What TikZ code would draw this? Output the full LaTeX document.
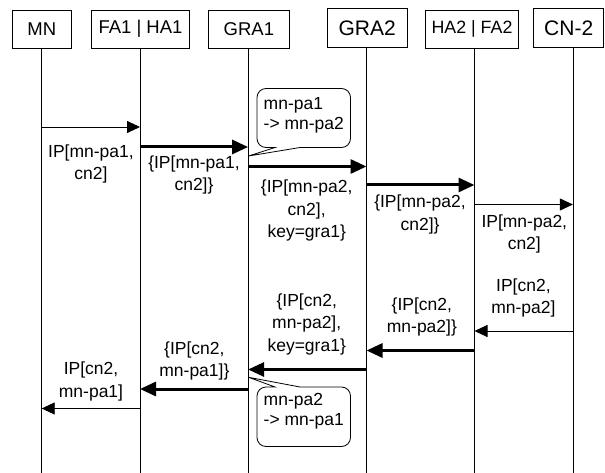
\documentclass[tikz,border=0pt]{standalone}
\usepackage{fontspec}
\setmainfont{Liberation Sans}
\usetikzlibrary{arrows.meta}

\begin{document}
\begin{tikzpicture}[x=1pt,y=-1pt,
  entity/.style={draw,line width=.8pt,minimum height=38.5pt,inner sep=0pt,
    font=\fontsize{18.5}{22}\selectfont},
  bigentity/.style={entity,font=\fontsize{21}{24}\selectfont},
  lifeline/.style={line width=.8pt},
  thinmsg/.style={line width=.9pt,-{Triangle[length=13pt,width=12pt]}},
  thickmsg/.style={line width=3pt,-{Triangle[length=16pt,width=14pt]}},
  msglabel/.style={align=center,inner sep=0pt,
    font=\fontsize{17.5}{22.5}\selectfont},
  swaplabel/.style={align=left,anchor=west,inner sep=0pt,
    font=\fontsize{17.5}{20}\selectfont},
  callbox/.style={draw,line width=.8pt,fill=white}]
  \useasboundingbox (0,0) rectangle (605,473);
  % participants
  \node[entity,minimum width=58.3pt] (mn) at (41.8,29.2) {MN};
  \node[entity,minimum width=97.6pt] (fa) at (140.5,29.2) {FA1 | HA1};
  \node[entity,minimum width=81pt] (graa) at (248.9,29.2) {GRA1};
  \node[bigentity,minimum width=79.8pt] (grab) at (367.1,28) {GRA2};
  \node[entity,minimum width=93.7pt,font=\fontsize{17.8}{22}\selectfont]
    (ha) at (472,29.2) {HA2 | FA2};
  \node[bigentity,minimum width=70.2pt] (cn) at (568.7,28) {CN-2};
  % lifelines
  \coordinate (mnl) at (41.7,48.4);
  \coordinate (fal) at (140,48.4);
  \coordinate (graal) at (248.1,48.4);
  \coordinate (grabl) at (366.5,47.2);
  \coordinate (hal) at (474.5,48.4);
  \coordinate (cnl) at (572.9,47.2);
  \foreach \l in {mnl,fal,graal,grabl,hal,cnl}
    \draw[lifeline] (\l) -- (\l |- 0,473);
  % callouts on GRA1
  \coordinate (tipa) at (248.6,156);
  \coordinate (tipb) at (248.6,377.3);
  \draw[callbox] (tipa) -- (300,147.5) [rounded corners=9pt] -- (350.5,147.5)
    -- (350.5,88.5) -- (257,88.5) -- (257,147.5) [sharp corners] -- (275,147.5)
    -- cycle;
  \node[swaplabel] (swapa) at (263.5,115) {mn-pa1\\-> mn-pa2};
  \draw[callbox] (tipb) -- (300,387) [rounded corners=9pt] -- (350.5,387)
    -- (350.5,446.5) -- (257,446.5) -- (257,387) [sharp corners]
    -- (275,387) -- cycle;
  \node[swaplabel] (swapb) at (263.5,411.5) {mn-pa2\\-> mn-pa1};
  % outgoing packets
  \draw[thinmsg] (mnl |- 0,127) -- (fal |- 0,127);
  \node[msglabel] (pa) at (91,164) {IP[mn-pa1,\\cn2]};
  \draw[thickmsg] (fal |- 0,147) -- (graal |- 0,147);
  \node[msglabel] (pb) at (194,175) {\{IP[mn-pa1,\\cn2]\}};
  \draw[thickmsg] (graal |- 0,166.5) -- (grabl |- 0,166.5);
  \node[msglabel] (pc) at (306.7,210.5) {\{IP[mn-pa2,\\cn2],\\key=gra1\}};
  \draw[thickmsg] (grabl |- 0,185) -- (hal |- 0,185);
  \node[msglabel] (pd) at (420,214.5) {\{IP[mn-pa2,\\cn2]\}};
  \draw[thinmsg] (hal |- 0,204.5) -- (cnl |- 0,204.5);
  \node[msglabel] (pe) at (524.3,234) {IP[mn-pa2,\\cn2]};
  % returning packets
  \draw[thinmsg] (cnl |- 0,331) -- (hal |- 0,331);
  \node[msglabel] (pf) at (523.4,298) {IP[cn2,\\mn-pa2]};
  \draw[thickmsg] (hal |- 0,350.5) -- (grabl |- 0,350.5);
  \node[msglabel] (pg) at (421.9,317) {\{IP[cn2,\\mn-pa2]\}};
  \draw[thickmsg] (grabl |- 0,369.5) -- (graal |- 0,369.5);
  \node[msglabel] (ph) at (306.7,324) {\{IP[cn2,\\mn-pa2],\\key=gra1\}};
  \draw[thickmsg] (graal |- 0,389) -- (fal |- 0,389);
  \node[msglabel] (pi) at (194.4,361) {\{IP[cn2,\\mn-pa1]\}};
  \draw[thinmsg] (fal |- 0,408.5) -- (mnl |- 0,408.5);
  \node[msglabel] (pj) at (91,381.5) {IP[cn2,\\mn-pa1]};
\end{tikzpicture}
\end{document}
